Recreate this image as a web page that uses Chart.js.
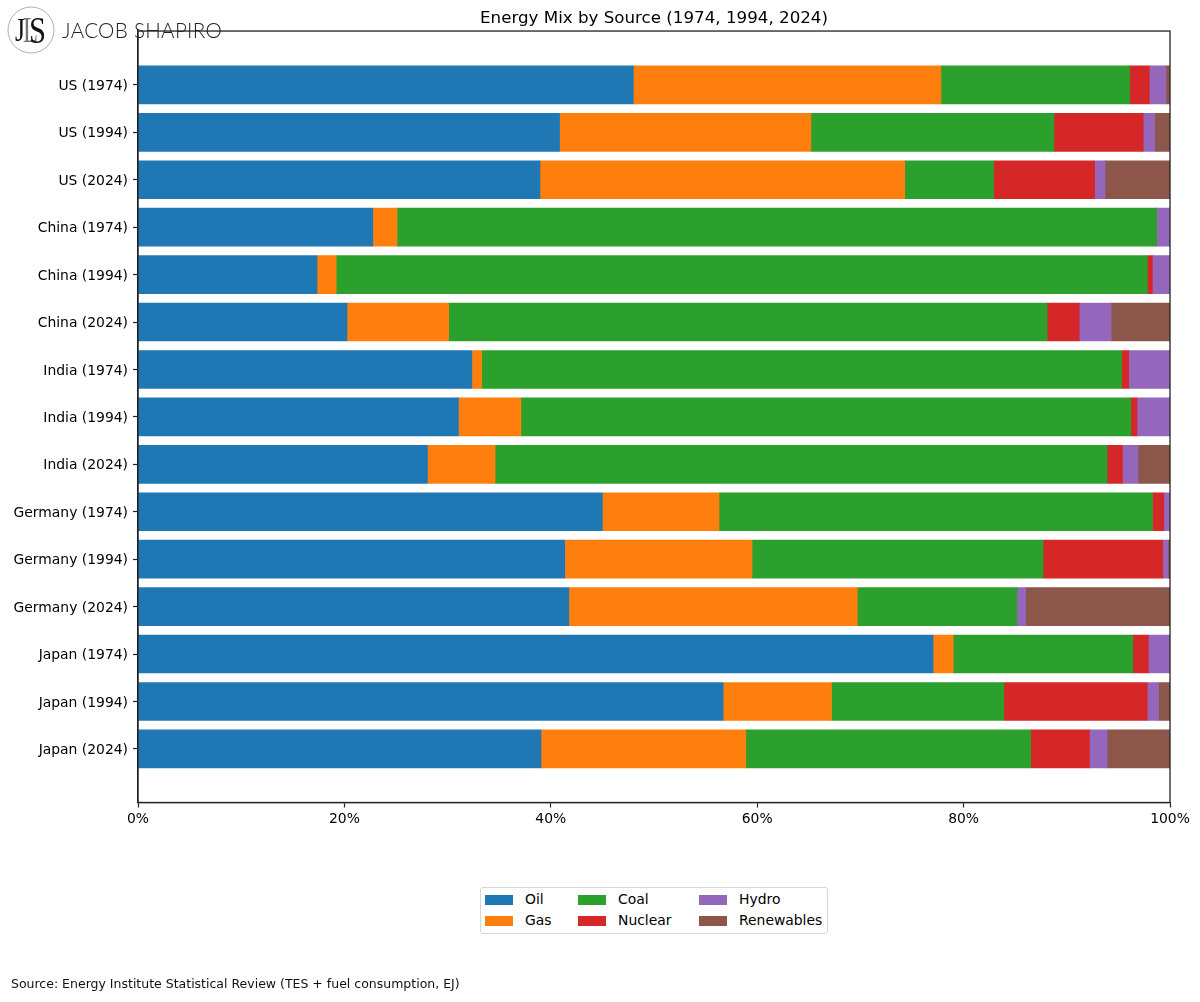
<!DOCTYPE html>
<html>
<head>
<meta charset="utf-8">
<script src="https://cdn.jsdelivr.net/npm/chart.js@4"></script>
<style>
html, body { margin: 0; padding: 0; background: #fff; }
body { position: relative; width: 1200px; height: 1002px; overflow: hidden; font-family: "DejaVu Sans", sans-serif; color: #000; }
canvas { position: absolute; left: 0; top: 0; }
#logo { position: absolute; left: 0; top: 0; }
#brand { position: absolute; left: 62px; top: 17px; font: 300 20.6px Lato, sans-serif; color: #222; letter-spacing: 0.3px; white-space: nowrap; line-height: 26px; }
#legend { position: absolute; left: 480px; top: 887px; width: 346px; height: 45px; border: 1px solid #d6d6d6; border-radius: 3px; background: #fff; }
#legend .item { position: absolute; font-size: 13.9px; line-height: 21px; white-space: nowrap; }
#legend .swatch { position: absolute; left: -40px; top: 6px; width: 28px; height: 10px; }
#source { position: absolute; left: 11px; top: 976px; font-size: 12.5px; line-height: 16px; color: #111; white-space: nowrap; }
</style>
</head>
<body>
<canvas id="myChart" width="1200" height="1002"></canvas>
<svg id="logo" width="60" height="60">
    <circle cx="31" cy="30" r="23" fill="none" stroke="#999" stroke-width="0.8"/>
    <text x="15" y="41" font-family="Liberation Serif" font-size="34" fill="#111" textLength="10" lengthAdjust="spacingAndGlyphs">J</text>
    <text x="23" y="42" font-family="Liberation Serif" font-size="35" fill="#777" textLength="15" lengthAdjust="spacingAndGlyphs">L</text>
    <text x="29" y="43" font-family="Liberation Serif" font-size="38" fill="#111" textLength="17" lengthAdjust="spacingAndGlyphs">S</text>
</svg>
<div id="brand">JACOB SHAPIRO</div>
<div id="legend"></div>
<div id="source">Source: Energy Institute Statistical Review (TES + fuel consumption, EJ)</div>
<script>
const categories = ["US (1974)", "US (1994)", "US (2024)", "China (1974)", "China (1994)", "China (2024)",
    "India (1974)", "India (1994)", "India (2024)", "Germany (1974)", "Germany (1994)", "Germany (2024)",
    "Japan (1974)", "Japan (1994)", "Japan (2024)"];
const sources = ["Oil", "Gas", "Coal", "Nuclear", "Hydro", "Renewables"];
const colores = ["#1f77b4", "#ff7f0e", "#2ca02c", "#d62728", "#9467bd", "#8c564b"];

const oil = [48.0, 40.85, 38.95, 22.75, 17.35, 20.25, 32.35, 31.05, 28.05, 45.0, 41.35, 41.75, 77.05, 56.7, 39.05];
const gas = [29.8, 24.35, 35.35, 2.35, 1.85, 9.85, 0.95, 6.05, 6.55, 11.3, 18.15, 27.95, 1.95, 10.5, 19.85];
const coal = [18.3, 23.55, 8.6, 73.6, 78.6, 58.0, 62.0, 59.1, 59.3, 42.0, 28.2, 15.45, 17.4, 16.7, 27.6];
const nuclear = [1.9, 8.65, 9.8, 0, 0.5, 3.1, 0.7, 0.6, 1.5, 1.1, 11.6, 0, 1.5, 13.9, 5.7];
const hydro = [1.6, 1.1, 1.0, 1.3, 1.7, 3.1, 4.0, 3.2, 1.5, 0.6, 0.5, 0.85, 2.1, 1.1, 1.7];
const renewables = [0.4, 1.5, 6.3, 0, 0, 5.7, 0, 0, 3.1, 0, 0.2, 14.0, 0, 1.1, 6.1];
const xTicks = [0, 20, 40, 60, 80, 100];

const valores = [oil, gas, coal, nuclear, hydro, renewables];
const fuente = "'DejaVu Sans'";

// top and right spines, chart.js only draws the two axis borders
const marco = {
    id: 'marco',
    afterDraw(chart) {
        const a = chart.chartArea;
        const c = chart.ctx;
        c.save();
        c.strokeStyle = '#222';
        c.lineWidth = 1.3;
        c.strokeRect(a.left, a.top, a.right - a.left, a.bottom - a.top);
        c.restore();
    }
};

const ctx = document.getElementById('myChart');
var myChart = new Chart(ctx, {
    type: "bar",
    data: {
        datasets: sources.map(function(nombre, s) {
            return {
                label: nombre,
                data: categories.map(function(cat, i) { return {x: valores[s][i], y: i}; }),
                backgroundColor: colores[s],
                borderWidth: 0,
                barThickness: 38
            };
        })
    },
    plugins: [marco],
    options: {
        indexAxis: 'y',
        responsive: false,
        animation: false,
        layout: { padding: { left: 0, right: 30, top: 0, bottom: 159.5 } },
        plugins: {
            legend: { display: false },
            tooltip: { enabled: false },
            title: {
                display: true,
                text: "Energy Mix by Source (1974, 1994, 2024)",
                fullSize: false,
                color: '#000',
                font: { family: fuente, size: 16.7, weight: 'normal', lineHeight: 1.2 },
                padding: { top: 9, bottom: 2 }
            }
        },
        scales: {
            x: {
                type: 'linear',
                stacked: true,
                min: 0,
                max: 100,
                afterBuildTicks(scale) { scale.ticks = xTicks.map(v => ({value: v})); },
                afterFit(scale) { scale.height = 40; },
                grid: { drawOnChartArea: false, color: '#222', tickLength: 5, tickWidth: 1.2 },
                border: { color: '#222', width: 1.3 },
                ticks: {
                    color: '#000',
                    maxRotation: 0,
                    autoSkip: false,
                    padding: 4,
                    font: { family: fuente, size: 13.9 },
                    callback: v => v + '%'
                }
            },
            y: {
                type: 'linear',
                stacked: true,
                reverse: true,
                offset: false,
                min: -1.135,
                max: 15.13,
                afterBuildTicks(scale) { scale.ticks = categories.map((c, i) => ({value: i})); },
                afterFit(scale) { scale.width = 138; },
                grid: { offset: false, drawOnChartArea: false, color: '#222', tickLength: 5, tickWidth: 1.2 },
                border: { color: '#222', width: 1.3 },
                ticks: {
                    color: '#000',
                    autoSkip: false,
                    padding: 5,
                    labelOffset: 1.5,
                    font: { family: fuente, size: 13.9 },
                    callback: v => categories[v]
                }
            }
        }
    }
});

// legend fills column by column like the original
const leyenda = document.getElementById('legend');
const columnas = [44, 137, 258];
sources.forEach(function(nombre, s) {
    const item = document.createElement('div');
    item.className = 'item';
    item.style.left = columnas[Math.floor(s / 2)] + 'px';
    item.style.top = (1 + (s % 2) * 21) + 'px';
    item.textContent = nombre;
    const sw = document.createElement('span');
    sw.className = 'swatch';
    sw.style.background = colores[s];
    item.appendChild(sw);
    leyenda.appendChild(item);
});
</script>
</body>
</html>
